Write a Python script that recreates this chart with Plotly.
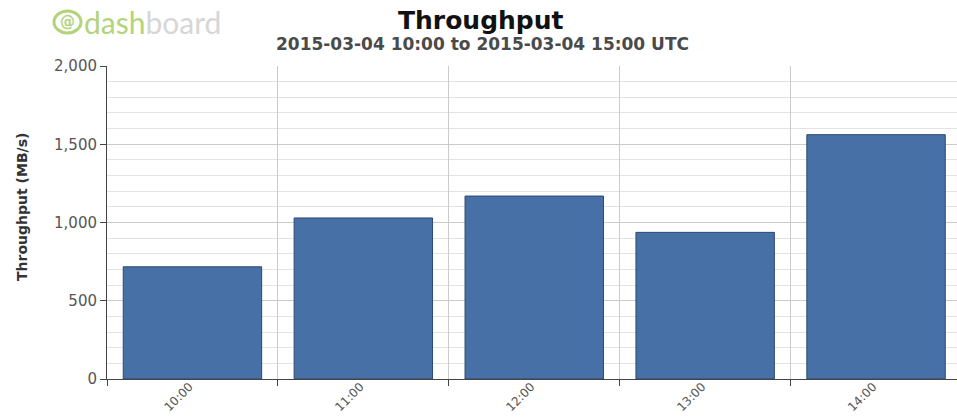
import plotly.graph_objects as go

# Hourly throughput for the reporting window
hours = ["10:00", "11:00", "12:00", "13:00", "14:00"]
throughput_mbs = [717, 1029, 1169, 937, 1561]
y_tick_values = [0, 500, 1000, 1500, 2000]

title_text = "Throughput"
subtitle_text = "2015-03-04 10:00 to 2015-03-04 15:00 UTC"
y_title_text = "Throughput (MB/s)"

W, H = 957, 418
L, R, T, B = 107, 0, 66, 39
PW, PH = W - L - R, H - T - B


def px_to_paper(px, py):
    """Convert page pixel coordinates into paper coordinates of the plot area."""
    return (px - L) / PW, (H - B - py) / PH


fig = go.Figure(
    go.Bar(
        x=hours,
        y=throughput_mbs,
        width=0.81,
        marker=dict(color="#4670a6", line=dict(color="#2c4872", width=1)),
        hoverinfo="x+y",
    )
)

annotations = []

# Chart title and subtitle
tx, ty = px_to_paper(481, 20)
annotations.append(dict(
    text=f"<b>{title_text}</b>", x=tx, y=ty, xref="paper", yref="paper",
    xanchor="center", yanchor="middle", showarrow=False,
    font=dict(family="DejaVu Sans", size=25, color="#111111"),
))
sx, sy = px_to_paper(482, 44)
annotations.append(dict(
    text=f"<b>{subtitle_text}</b>", x=sx, y=sy, xref="paper", yref="paper",
    xanchor="center", yanchor="middle", showarrow=False,
    font=dict(family="DejaVu Sans", size=17, color="#4a4a4a"),
))

# Rotated y-axis title
ax, ay = px_to_paper(22, 207)
annotations.append(dict(
    text=f"<b>{y_title_text}</b>", x=ax, y=ay, xref="paper", yref="paper",
    xanchor="center", yanchor="middle", textangle=-90, showarrow=False,
    font=dict(family="DejaVu Sans", size=14, color="#333333"),
))

# Brand mark in the top-left corner
lx, ly = px_to_paper(82, 22)
annotations.append(dict(
    text="<span style='color:#b3d47a'>dash</span><span style='color:#d6d6d6'>board</span>",
    x=lx, y=ly, xref="paper", yref="paper", xanchor="left", yanchor="middle",
    showarrow=False, font=dict(family="Lato", size=30),
))
cx0, cy0 = px_to_paper(54, 11)
cx1, cy1 = px_to_paper(81, 33)
ix, iy = px_to_paper(67.5, 22)
annotations.append(dict(
    text="<b>@</b>", x=ix, y=iy, xref="paper", yref="paper", xanchor="center",
    yanchor="middle", showarrow=False,
    font=dict(family="DejaVu Sans", size=15, color="#b3d47a"),
))

shapes = [dict(
    type="circle", xref="paper", yref="paper", x0=cx0, y0=cy1, x1=cx1, y1=cy0,
    line=dict(color="#b3d47a", width=3), fillcolor="rgba(0,0,0,0)", layer="above",
)]

fig.update_layout(
    width=W, height=H,
    margin=dict(l=L, r=R, t=T, b=B, pad=0, autoexpand=False),
    paper_bgcolor="white", plot_bgcolor="white",
    showlegend=False,
    separators=".,",
    annotations=annotations,
    shapes=shapes,
    bargap=0.19,
)

fig.update_xaxes(
    type="category",
    automargin=False,
    range=[-0.5, -0.5 + PW / 170.9],
    tickson="boundaries",
    showgrid=True, gridcolor="#cbcbcb", gridwidth=1,
    ticks="outside", ticklen=6, tickcolor="#444444",
    showline=True, linecolor="#444444", linewidth=1,
    tickangle=-45,
    ticklabelstandoff=-5,
    ticklabelshift=-3,
    tickfont=dict(family="DejaVu Sans", size=12, color="#555555"),
    zeroline=False,
)

fig.update_yaxes(
    automargin=False,
    range=[0, 2000],
    tickvals=y_tick_values,
    tickformat=",d",
    showgrid=True, gridcolor="#cbcbcb", gridwidth=1,
    minor=dict(dtick=100, showgrid=True, gridcolor="#e3e3e3", gridwidth=1, ticks=""),
    ticks="outside", ticklen=6, tickcolor="#444444",
    showline=True, linecolor="#444444", linewidth=1,
    tickfont=dict(family="DejaVu Sans", size=15, color="#555555"),
    zeroline=False,
)

fig.write_html("out.html")
